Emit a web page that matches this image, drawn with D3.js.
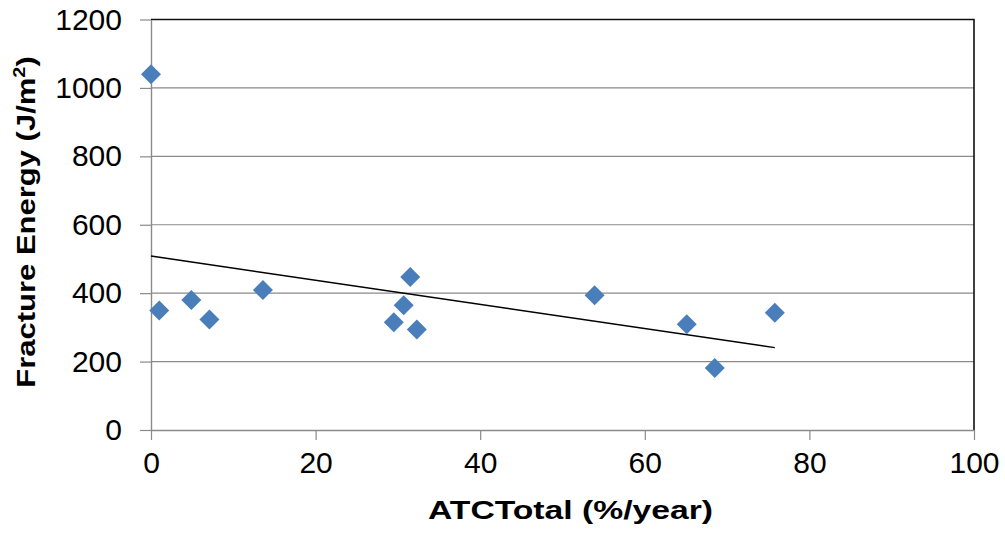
<!DOCTYPE html>
<html>
<head>
<meta charset="utf-8">
<script src="https://cdn.jsdelivr.net/npm/d3@7"></script>
<style>
  html, body { margin: 0; padding: 0; background: #fff; }
  svg { display: block; font-family: "Liberation Sans", Arial, sans-serif; }
</style>
</head>
<body>
<svg id="chart" width="1005" height="533"></svg>
<script>
// ATC total (%/year) for each specimen
const atcTotal = [0, 1.0, 4.9, 7.1, 13.6, 29.5, 30.7, 31.5, 32.3, 53.9, 65.1, 68.5, 75.8];
// Fracture energy (J/m²) for each specimen
const fractureEnergy = [1040, 349, 380, 323, 409, 315, 365, 447, 294, 394, 309, 181, 343];
const xTicks = [0, 20, 40, 60, 80, 100];
const yTicks = [0, 200, 400, 600, 800, 1000, 1200];

const svg = d3.select("#chart");
const plotLeft = 151, plotRight = 974, plotTop = 19.5, plotBottom = 430;

const x = d3.scaleLinear().domain([0, 100]).range([plotLeft, plotRight]);
const y = d3.scaleLinear().domain([0, 1200]).range([plotBottom, plotTop]);

const axisGray = "#8a8a8a";
const plain = d3.format("d");

// horizontal gridlines
svg.append("g").selectAll("line")
  .data(yTicks.filter(d => d > 0 && d < 1200))
  .join("line")
  .attr("x1", plotLeft).attr("x2", plotRight)
  .attr("y1", d => y(d)).attr("y2", d => y(d))
  .attr("stroke", axisGray).attr("stroke-width", 1.2);

// plot area border (top and right)
svg.append("path")
  .attr("d", `M${plotLeft},${y(1200)}H${plotRight}V${y(0)}`)
  .attr("fill", "none").attr("stroke", "#111").attr("stroke-width", 1.6);

// y axis
const yAxis = svg.append("g")
  .attr("transform", `translate(${plotLeft},0)`)
  .call(d3.axisLeft(y).tickValues(yTicks).tickFormat(plain)
    .tickSize(11).tickPadding(18).tickSizeOuter(0));
yAxis.select(".domain").attr("stroke", axisGray).attr("stroke-width", 1.4);
yAxis.selectAll(".tick line").attr("stroke", axisGray).attr("stroke-width", 1.2);
yAxis.selectAll(".tick text")
  .attr("font-size", 30).attr("fill", "#000")
  .attr("font-family", "'Liberation Sans', Arial, sans-serif");

// x axis
const xAxis = svg.append("g")
  .attr("transform", `translate(0,${plotBottom})`)
  .call(d3.axisBottom(x).tickValues(xTicks).tickFormat(plain)
    .tickSize(10).tickPadding(12).tickSizeOuter(0));
xAxis.select(".domain").attr("stroke", axisGray).attr("stroke-width", 1.4);
xAxis.selectAll(".tick line").attr("stroke", axisGray).attr("stroke-width", 1.2);
xAxis.selectAll(".tick text")
  .attr("font-size", 30).attr("fill", "#000")
  .attr("font-family", "'Liberation Sans', Arial, sans-serif");

// least-squares linear trend line over the data range
const n = atcTotal.length;
const mx = d3.mean(atcTotal), my = d3.mean(fractureEnergy);
let sxy = 0, sxx = 0;
for (let i = 0; i < n; i++) {
  sxy += (atcTotal[i] - mx) * (fractureEnergy[i] - my);
  sxx += (atcTotal[i] - mx) ** 2;
}
const slope = sxy / sxx, intercept = my - slope * mx;
const [xMin, xMax] = d3.extent(atcTotal);
svg.append("line")
  .attr("x1", x(xMin)).attr("y1", y(intercept + slope * xMin))
  .attr("x2", x(xMax)).attr("y2", y(intercept + slope * xMax))
  .attr("stroke", "#000").attr("stroke-width", 1.4);

// diamond markers
const diamond = d3.symbol().type(d3.symbolSquare).size(200);
svg.append("g").selectAll("path")
  .data(atcTotal.map((v, i) => [v, fractureEnergy[i]]))
  .join("path")
  .attr("d", diamond)
  .attr("transform", d => `translate(${x(d[0])},${y(d[1])}) rotate(45)`)
  .attr("fill", "#4a7ebb");

// axis titles
svg.append("text")
  .attr("x", 570.5).attr("y", 519)
  .attr("text-anchor", "middle")
  .attr("font-size", 25).attr("font-weight", "bold")
  .attr("textLength", 285).attr("lengthAdjust", "spacingAndGlyphs")
  .text("ATCTotal  (%/year)");

const yTitle = svg.append("text")
  .attr("transform", "translate(35,222) rotate(-90) scale(1.24,1)")
  .attr("text-anchor", "middle")
  .attr("font-size", 25).attr("font-weight", "bold");
yTitle.append("tspan").text("Fracture Energy (J/m");
yTitle.append("tspan").attr("font-size", 16).attr("dy", -10).text("2");
yTitle.append("tspan").attr("dy", 10).text(")");
</script>
</body>
</html>
